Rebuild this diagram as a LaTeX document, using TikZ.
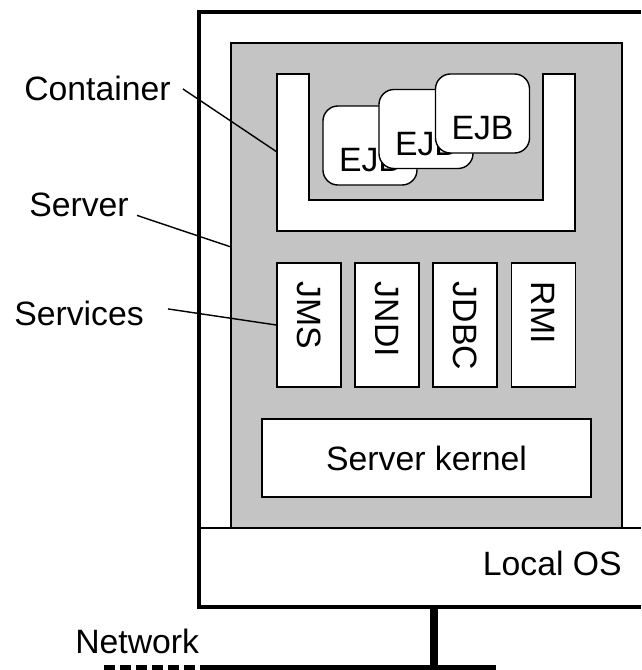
\documentclass[tikz,border=0pt]{standalone}
\usepackage{fontspec}
\setmainfont{Liberation Sans}
\definecolor{srvgray}{RGB}{196,196,196}

\begin{document}
\begin{tikzpicture}[x=0.025cm,y=-0.025cm,
    font=\fontsize{24}{28}\selectfont,
    heavy/.style={line width=2.8pt},
    fine/.style={line width=1pt},
    wbox/.style={fine,draw,fill=white,inner sep=0pt},
    ejbbox/.style={wbox,rounded corners=0.375cm,minimum width=2.35cm,minimum height=1.975cm,
        label={[yshift=-0.375cm]center:EJB}},
    svcbox/.style={wbox,rotate=-90,minimum height=1.6cm,text width=2.15cm,align=left,inner xsep=0.475cm},
    tag/.style={anchor=base west,inner sep=0pt}]
    \useasboundingbox (0,0) rectangle (641,670);

    \draw[heavy] (641,12) -- (199,12) -- (199,607) -- (641,607);
    \draw[fine] (199,528) -- (641,528);
    \node[fine,draw,fill=srvgray,inner sep=0pt,minimum width=9.775cm,minimum height=12.125cm] (server) at (426.5,285.5) {};

    \draw[fine,fill=white] (277,74) -- (309,74) -- (309,200) -- (543,200) -- (543,74) -- (575,74)
        -- (575,231) -- (277,231) -- cycle;
    \coordinate (contpin) at (277,152);
    \coordinate (srvpin) at (231,247);

    \node[ejbbox] (ejbA) at (370,145.5) {};
    \node[ejbbox] (ejbB) at (426,129) {};
    \node[ejbbox] (ejbC) at (482.5,113.5) {};

    \node[svcbox] (jms) at (309,325) {JMS};
    \node[svcbox] (jndi) at (387,325) {JNDI};
    \node[svcbox] (jdbc) at (465,325) {JDBC};
    \node[svcbox] (rmi) at (543.5,325) {RMI};

    \node[wbox,minimum width=8.225cm,minimum height=1.95cm] (kernel) at (426.5,458) {Server kernel};
    \node[anchor=base east,inner sep=0pt] (os) at (622,575) {Local OS};

    \node[tag] (contlabel) at (24,101) {Container};
    \node[tag] (srvlabel) at (29,216) {Server};
    \node[tag] (svclabel) at (14,325) {Services};
    \node[tag] (netlabel) at (75,653) {Network};

    \draw[fine] ([xshift=0.3cm]contlabel.east) -- (contpin);
    \draw[fine] ([xshift=0.2cm,yshift=-0.275cm]srvlabel.east) -- (srvpin);
    \draw[fine] ([xshift=0.6cm,yshift=0.1cm]svclabel.east) -- (jms.south);

    \coordinate (osport) at (434,607);
    \coordinate (netjoin) at (434,668);
    \coordinate (netL) at (104,668);
    \coordinate (netM) at (204,668);
    \coordinate (netR) at (496,668);
    \draw[line width=5.7pt] (osport) -- (netjoin);
    \draw[line width=4.5pt,dash pattern=on 0.27cm off 0.13cm] (netL) -- (netM);
    \draw[line width=4.5pt] (netM) -- (netR);
\end{tikzpicture}
\end{document}
